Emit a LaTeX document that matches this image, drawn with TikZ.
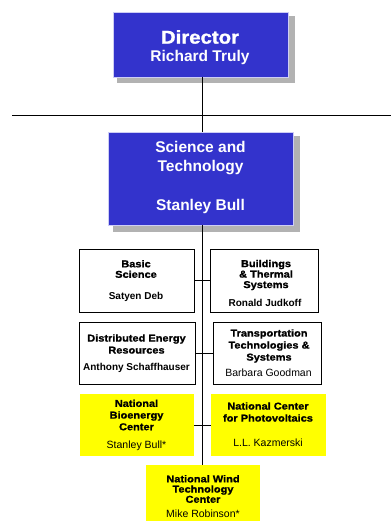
\documentclass[tikz,border=0pt]{standalone}
\usepackage{fontspec}
\setmainfont{Liberation Sans}
% heavy, slightly wider face for the unit headings
\newfontfamily\heavyfont[BoldFeatures={FakeStretch=1.1,FakeBold=1.2}]{Liberation Sans}
\definecolor{orgblue}{RGB}{51,51,204}
\definecolor{orgedge}{RGB}{205,205,245}
\definecolor{orgshadow}{RGB}{178,178,178}
\definecolor{orgyellow}{RGB}{255,255,0}
\begin{document}
\begin{tikzpicture}[x=1pt,y=-1pt,
  boxbase/.style={anchor=north west,inner sep=0pt,outer sep=0pt},
  bluebox/.style={boxbase,fill=orgblue,draw=orgedge,line width=0.8pt},
  whitebox/.style={boxbase,fill=white,draw=black,line width=0.9pt},
  yellowbox/.style={boxbase,fill=orgyellow},
  shadowbox/.style={fill=orgshadow},
  link/.style={draw=black,line width=0.9pt},
  dirhead/.style={text=white,font=\heavyfont\bfseries\fontsize{18.5}{20}\selectfont,inner sep=0pt},
  bighead/.style={text=white,align=center,font=\bfseries\fontsize{15.5}{19}\selectfont,inner sep=0pt},
  unithead/.style={align=center,font=\heavyfont\bfseries\fontsize{10}{#1}\selectfont,inner sep=0pt},
  unithead/.default=11,
  namebold/.style={font=\bfseries\fontsize{10}{12}\selectfont,inner sep=0pt},
  nameplain/.style={font=\fontsize{10.5}{12}\selectfont,inner sep=0pt}]
\clip (0,0) rectangle (391,521);
\fill[white] (0,0) rectangle (391,521);

% shadows behind the two top boxes
\fill[shadowbox] (117,16) rectangle (295,83);
\fill[shadowbox] (113,136) rectangle (300,232);

% top boxes
\node[bluebox,minimum width=175pt,minimum height=65pt] (dir) at (113,12) {};
\node[bluebox,minimum width=185pt,minimum height=93pt] (sci) at (108,132) {};

% unit boxes
\node[whitebox,minimum width=115pt,minimum height=63pt] (basic) at (79,249) {};
\node[whitebox,minimum width=108pt,minimum height=63pt] (build) at (210,249) {};
\node[whitebox,minimum width=116pt,minimum height=62pt] (der) at (79,322) {};
\node[whitebox,minimum width=108pt,minimum height=62pt] (trans) at (213,322) {};
\node[yellowbox,minimum width=114pt,minimum height=62pt] (bio) at (80,394) {};
\node[yellowbox,minimum width=115pt,minimum height=62pt] (pv) at (211,394) {};
\node[yellowbox,minimum width=114pt,minimum height=70pt] (wind) at (146,465) {};

% the staff rule and the spine
\coordinate (ruleL) at (12,115);
\coordinate (ruleR) at (391,115);
\coordinate (spine) at (202,115);
\draw[link] (ruleL) -- (ruleR);
\draw[link] (dir.south -| spine) -- (spine);
\draw[link] (spine) -- (sci.north -| spine);
\draw[link] (sci.south -| spine) -- (wind.north -| spine);

% side links between paired units
\draw[link] (basic.east) -- (build.west);
\draw[link] (der.east) -- (trans.west);
\draw[link] (bio.east) -- (pv.west);

% texts
\node[dirhead] (dirT) at (200,37) {Director};
\node[bighead] (dirN) at (200,57.5) {Richard Truly};
\node[bighead] (sciT) at (200.5,158.5) {Science and\\Technology};
\node[bighead] (sciN) at (200.5,206) {Stanley Bull};

\node[unithead=10.5] (basicT) at (136,269) {Basic\\Science};
\node[namebold] (basicN) at (136,297) {Satyen Deb};

\node[unithead=10.5] (buildT) at (266,275) {Buildings\\\& Thermal\\Systems};
\node[namebold] (buildN) at (265,303) {Ronald Judkoff};

\node[unithead=12] (derT) at (136.5,344) {Distributed Energy\\Resources};
\node[namebold] (derN) at (136.5,368) {Anthony Schaffhauser};

\node[unithead=12] (transT) at (269,346) {Transportation\\Technologies \&\\Systems};
\node[nameplain] (transN) at (268.5,373) {Barbara Goodman};

\node[unithead=11.7] (bioT) at (136.5,415) {National\\Bioenergy\\Center};
\node[nameplain] (bioN) at (136.5,446) {Stanley Bull*};

\node[unithead=12] (pvT) at (268,412) {National Center\\for Photovoltaics};
\node[nameplain] (pvN) at (268,443) {L.L. Kazmerski};

\node[unithead=10.2] (windT) at (203,489) {National Wind\\Technology\\Center};
\node[nameplain] (windN) at (203,514) {Mike Robinson*};
\end{tikzpicture}
\end{document}
